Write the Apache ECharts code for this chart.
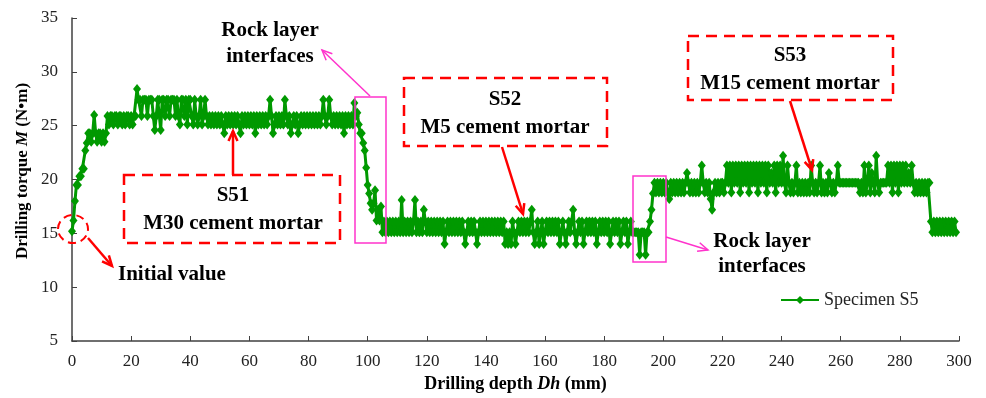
<!DOCTYPE html>
<html>
<head>
<meta charset="utf-8">
<script src="https://cdn.jsdelivr.net/npm/echarts@6/dist/echarts.min.js"></script>
<style>
  html, body { margin: 0; padding: 0; background: #fff; }
  #chart { width: 986px; height: 398px; }
</style>
</head>
<body>
<div id="chart"></div>
<script>
  // torque readings (N·m), one every 0.5 mm of drilling depth
  var depthStep = 0.5
  // 0 - 99.5 mm
  var torqueA = [
    15.2, 16.2, 18.0, 19.5, 19.5, 20.3, 20.3, 21.0, 21.0, 22.7,
    23.4, 24.3, 24.3, 23.5, 24.3, 26.0, 24.3, 23.5, 24.3, 24.3,
    23.5, 24.3, 23.5, 24.3, 25.9, 25.1, 25.9, 25.9, 25.1, 25.9,
    25.9, 25.1, 25.9, 25.9, 25.1, 25.9, 25.1, 25.9, 25.9, 25.1,
    25.9, 25.1, 25.9, 25.9, 28.4, 27.4, 27.4, 25.9, 27.4, 27.4,
    27.4, 25.9, 27.4, 27.4, 27.4, 25.9, 24.6, 25.9, 27.4, 27.4,
    24.6, 27.4, 27.4, 25.9, 27.4, 27.4, 25.9, 27.4, 27.4, 27.4,
    25.9, 27.4, 25.9, 25.1, 27.4, 27.4, 25.9, 27.4, 25.1, 27.4,
    27.4, 25.9, 25.1, 27.4, 25.9, 25.1, 25.9, 27.4, 25.1, 25.9,
    27.4, 25.9, 25.1, 25.9, 25.1, 25.9, 25.1, 25.9, 25.1, 25.9,
    25.1, 25.9, 25.1, 24.3, 25.9, 25.1, 25.9, 25.1, 25.9, 25.1,
    25.9, 25.1, 25.9, 25.1, 24.3, 25.9, 25.1, 25.9, 25.1, 25.9,
    25.1, 25.9, 25.1, 25.9, 24.3, 25.9, 25.1, 25.9, 25.1, 25.9,
    25.1, 25.9, 25.1, 25.9, 27.4, 25.9, 24.3, 25.1, 25.9, 25.1,
    25.9, 25.1, 25.9, 25.1, 27.4, 25.9, 25.1, 25.9, 24.3, 25.1,
    25.9, 25.1, 25.9, 24.3, 25.1, 25.9, 25.1, 25.9, 25.1, 25.9,
    25.1, 25.9, 25.1, 25.9, 25.1, 25.9, 25.1, 25.9, 25.1, 25.9,
    27.4, 25.9, 25.1, 25.9, 27.4, 25.9, 25.1, 25.9, 25.1, 25.9,
    25.1, 25.9, 25.1, 25.9, 24.3, 25.9, 25.1, 25.9, 25.1, 25.9,
    25.1, 27.1, 25.9, 26.2, 25.1, 24.3, 24.3, 23.4, 22.7, 21.1
  ]
  // 100 - 199.5 mm
  var torqueB = [
    19.5, 18.7, 17.8, 17.2, 17.8, 19.0, 16.2, 17.2, 16.2, 17.5,
    15.1, 16.1, 15.1, 16.1, 15.1, 16.1, 15.1, 16.1, 15.1, 16.1,
    15.1, 16.1, 15.1, 18.1, 15.1, 16.1, 15.1, 16.1, 15.1, 16.1,
    15.1, 16.1, 18.1, 15.1, 16.1, 15.1, 16.1, 15.1, 17.2, 16.1,
    15.1, 16.1, 15.1, 16.1, 15.1, 16.1, 15.1, 16.1, 15.1, 16.1,
    15.1, 16.1, 14.0, 15.1, 16.1, 15.1, 16.1, 15.1, 16.1, 15.1,
    16.1, 15.1, 16.1, 15.1, 16.1, 15.1, 14.0, 15.1, 16.1, 15.1,
    16.1, 15.1, 16.1, 15.1, 14.0, 15.1, 16.1, 15.1, 16.1, 15.1,
    16.1, 15.1, 16.1, 15.1, 16.1, 15.1, 16.1, 15.1, 16.1, 15.1,
    16.1, 15.1, 16.1, 14.0, 15.1, 14.0, 15.1, 14.0, 16.1, 15.1,
    14.0, 15.1, 16.1, 15.1, 16.1, 15.1, 16.1, 15.1, 16.1, 15.1,
    16.1, 17.2, 15.1, 14.0, 15.1, 16.1, 14.0, 15.1, 16.1, 14.0,
    15.1, 16.1, 15.1, 16.1, 15.1, 16.1, 15.1, 16.1, 15.1, 16.1,
    14.0, 15.1, 16.1, 15.1, 14.0, 15.1, 16.1, 15.1, 16.1, 17.2,
    15.1, 14.0, 15.1, 16.1, 15.1, 16.1, 14.0, 15.1, 16.1, 15.1,
    16.1, 15.1, 16.1, 15.1, 16.1, 14.0, 15.1, 16.1, 15.1, 16.1,
    15.1, 16.1, 15.1, 16.1, 14.0, 15.1, 16.1, 15.1, 16.1, 15.1,
    16.1, 14.0, 15.1, 16.1, 15.1, 16.1, 14.0, 15.1, 16.1, 15.1,
    15.1, 15.1, 15.1, 15.1, 13.0, 15.1, 15.1, 15.1, 13.0, 15.1,
    15.1, 16.1, 17.2, 18.7, 19.7, 18.8, 19.7, 18.8, 19.7, 18.8
  ]
  // 200 - 299 mm
  var torqueC = [
    19.7, 18.8, 19.7, 18.8, 18.2, 19.7, 18.8, 19.7, 18.8, 19.7,
    18.8, 19.7, 18.8, 19.7, 18.8, 19.7, 20.6, 19.7, 18.8, 19.7,
    18.8, 19.7, 18.8, 19.7, 18.8, 19.7, 21.3, 19.7, 18.8, 19.7,
    18.8, 19.7, 18.2, 17.2, 18.8, 19.7, 18.8, 19.7, 18.8, 19.7,
    19.7, 18.8, 19.7, 21.3, 19.7, 21.3, 18.8, 21.3, 19.7, 21.3,
    19.7, 21.3, 18.8, 21.3, 19.7, 21.3, 19.7, 21.3, 18.8, 21.3,
    19.7, 21.3, 19.7, 21.3, 18.8, 21.3, 19.7, 21.3, 19.7, 21.3,
    18.8, 21.3, 19.7, 20.6, 19.7, 21.3, 18.8, 21.3, 19.7, 21.3,
    19.7, 22.2, 19.7, 18.8, 21.3, 19.7, 18.8, 19.7, 18.8, 19.7,
    21.3, 18.8, 19.7, 18.8, 19.7, 18.8, 19.7, 18.8, 19.7, 18.8,
    21.3, 19.7, 18.8, 19.7, 18.8, 19.7, 21.3, 18.8, 19.7, 18.8,
    19.7, 18.8, 20.6, 19.7, 18.8, 19.7, 18.8, 19.7, 21.3, 19.7,
    19.7, 19.7, 19.7, 19.7, 19.7, 19.7, 19.7, 19.7, 19.7, 19.7,
    19.7, 19.7, 19.7, 18.8, 19.7, 18.8, 21.3, 18.8, 19.7, 21.3,
    18.8, 20.6, 19.7, 18.8, 22.2, 19.7, 18.8, 19.7, 19.7, 19.7,
    19.7, 19.7, 21.3, 19.7, 21.3, 18.8, 21.3, 19.7, 21.3, 18.8,
    21.3, 19.7, 21.3, 19.7, 21.3, 19.7, 20.6, 19.7, 21.3, 19.7,
    18.8, 19.7, 18.8, 19.7, 18.8, 19.7, 18.8, 19.7, 18.8, 19.7,
    19.7, 16.1, 15.1, 16.1, 15.1, 16.1, 15.1, 16.1, 15.1, 16.1,
    15.1, 16.1, 15.1, 16.1, 15.1, 16.1, 15.1, 16.1, 15.1
  ]
  var xTicks = [0, 300, 20]
  var yTicks = [5, 35, 5]

  var torque = torqueA.concat(torqueB, torqueC)
  var seriesData = torque.map(function (v, i) { return [i * depthStep, v] })

  var RED = '#ff0000'
  var PINK = '#ff33cc'
  var serif = '"Liberation Serif", "Times New Roman", serif'

  function arrow(x1, y1, x2, y2, color, w) {
    var a = Math.atan2(y2 - y1, x2 - x1)
    var L = 11, s = 0.42
    return [{
      type: 'line', z: 100,
      shape: { x1: x1, y1: y1, x2: x2, y2: y2 },
      style: { stroke: color, lineWidth: w }
    }, {
      type: 'polyline', z: 100,
      shape: { points: [
        [x2 - L * Math.cos(a - s), y2 - L * Math.sin(a - s)],
        [x2, y2],
        [x2 - L * Math.cos(a + s), y2 - L * Math.sin(a + s)]
      ] },
      style: { stroke: color, lineWidth: w, fill: null }
    }]
  }

  function dashBox(x, y, w, h) {
    return {
      type: 'rect', z: 100,
      shape: { x: x, y: y, width: w, height: h },
      style: { fill: null, stroke: RED, lineWidth: 2.5, lineDash: [11, 7] }
    }
  }

  function pinkBox(x, y, w, h) {
    return {
      type: 'rect', z: 100,
      shape: { x: x, y: y, width: w, height: h },
      style: { fill: null, stroke: PINK, lineWidth: 1.5 }
    }
  }

  function label(x, y, txt, align) {
    return {
      type: 'text', z: 100, x: x, y: y,
      style: {
        text: txt, font: 'bold 21px ' + serif, fill: '#000',
        textAlign: align || 'center', textVerticalAlign: 'middle'
      }
    }
  }

  var graphics = [
    dashBox(124, 175, 216, 68),
    label(233, 196, 'S51'),
    label(233, 224, 'M30 cement mortar'),
    dashBox(404, 78, 203, 68),
    label(505, 100, 'S52'),
    label(505, 128, 'M5 cement mortar'),
    dashBox(688, 36, 205, 64),
    label(790, 56, 'S53'),
    label(790, 84, 'M15 cement mortar'),
    pinkBox(355, 97, 31, 146),
    pinkBox(633, 176, 33, 86),
    label(270, 31, 'Rock layer'),
    label(270, 57, 'interfaces'),
    label(762, 242, 'Rock layer'),
    label(762, 267, 'interfaces'),
    label(118, 275, 'Initial value', 'left'),
    {
      type: 'ellipse', z: 100,
      shape: { cx: 73, cy: 229, rx: 15, ry: 14 },
      style: { fill: null, stroke: RED, lineWidth: 2, lineDash: [8, 5] }
    },
    {
      // y axis title
      type: 'text', z: 100, x: 23, y: 171, rotation: Math.PI / 2,
      style: {
        text: '{b|Drilling torque }{i|M}{b| (N•m)}',
        textAlign: 'center', textVerticalAlign: 'middle',
        rich: {
          b: { fontFamily: serif, fontSize: 17, fontWeight: 'bold', fill: '#000' },
          i: { fontFamily: serif, fontSize: 17, fontWeight: 'bold', fontStyle: 'italic', fill: '#000' }
        }
      }
    }
  ]
  graphics = graphics
    .concat(arrow(233, 175, 233, 131, RED, 2.5))
    .concat(arrow(502, 147, 523, 214, RED, 2.5))
    .concat(arrow(790, 101, 812, 170, RED, 2.5))
    .concat(arrow(88, 238, 112, 266, RED, 2.5))
    .concat(arrow(370, 96, 322, 50, PINK, 1.5))
    .concat(arrow(666, 237, 708, 250, PINK, 1.5))

  var chart = echarts.init(document.getElementById('chart'))
  chart.setOption({
    animation: false,
    backgroundColor: '#fff',
    grid: { left: 72, right: 27, top: 18, bottom: 57 },
    legend: {
      left: 775, top: 286,
      itemWidth: 38, itemHeight: 10,
      textStyle: { fontFamily: serif, fontSize: 18, color: '#222' },
      data: ['Specimen S5']
    },
    xAxis: {
      type: 'value',
      min: xTicks[0], max: xTicks[1], interval: xTicks[2],
      name: 'Drilling depth {i|Dh} {n|(mm)}',
      nameLocation: 'middle', nameGap: 33,
      nameTextStyle: {
        fontFamily: serif, fontSize: 18, fontWeight: 'bold', color: '#000',
        rich: {
          i: { fontFamily: serif, fontSize: 18, fontWeight: 'bold', fontStyle: 'italic', color: '#000' },
          n: { fontFamily: serif, fontSize: 18, color: '#000' }
        }
      },
      axisLine: { lineStyle: { color: '#404040', width: 1.5 } },
      axisTick: { inside: true, length: 5, lineStyle: { color: '#404040' } },
      axisLabel: { fontFamily: serif, fontSize: 17, color: '#222', margin: 12 },
      splitLine: { show: false }
    },
    yAxis: {
      type: 'value',
      min: yTicks[0], max: yTicks[1], interval: yTicks[2],
      axisLine: { show: true, lineStyle: { color: '#404040', width: 1.5 } },
      axisTick: { show: true, inside: true, length: 5, lineStyle: { color: '#404040' } },
      axisLabel: { fontFamily: serif, fontSize: 17, color: '#222', margin: 14 },
      splitLine: { show: false }
    },
    series: [{
      name: 'Specimen S5',
      type: 'line',
      data: seriesData,
      symbol: 'diamond',
      symbolSize: [8, 10],
      showSymbol: true,
      showAllSymbol: true,
      color: '#009900',
      lineStyle: { width: 3, color: '#009900' },
      itemStyle: { color: '#009900' }
    }],
    graphic: graphics
  })
</script>
</body>
</html>
